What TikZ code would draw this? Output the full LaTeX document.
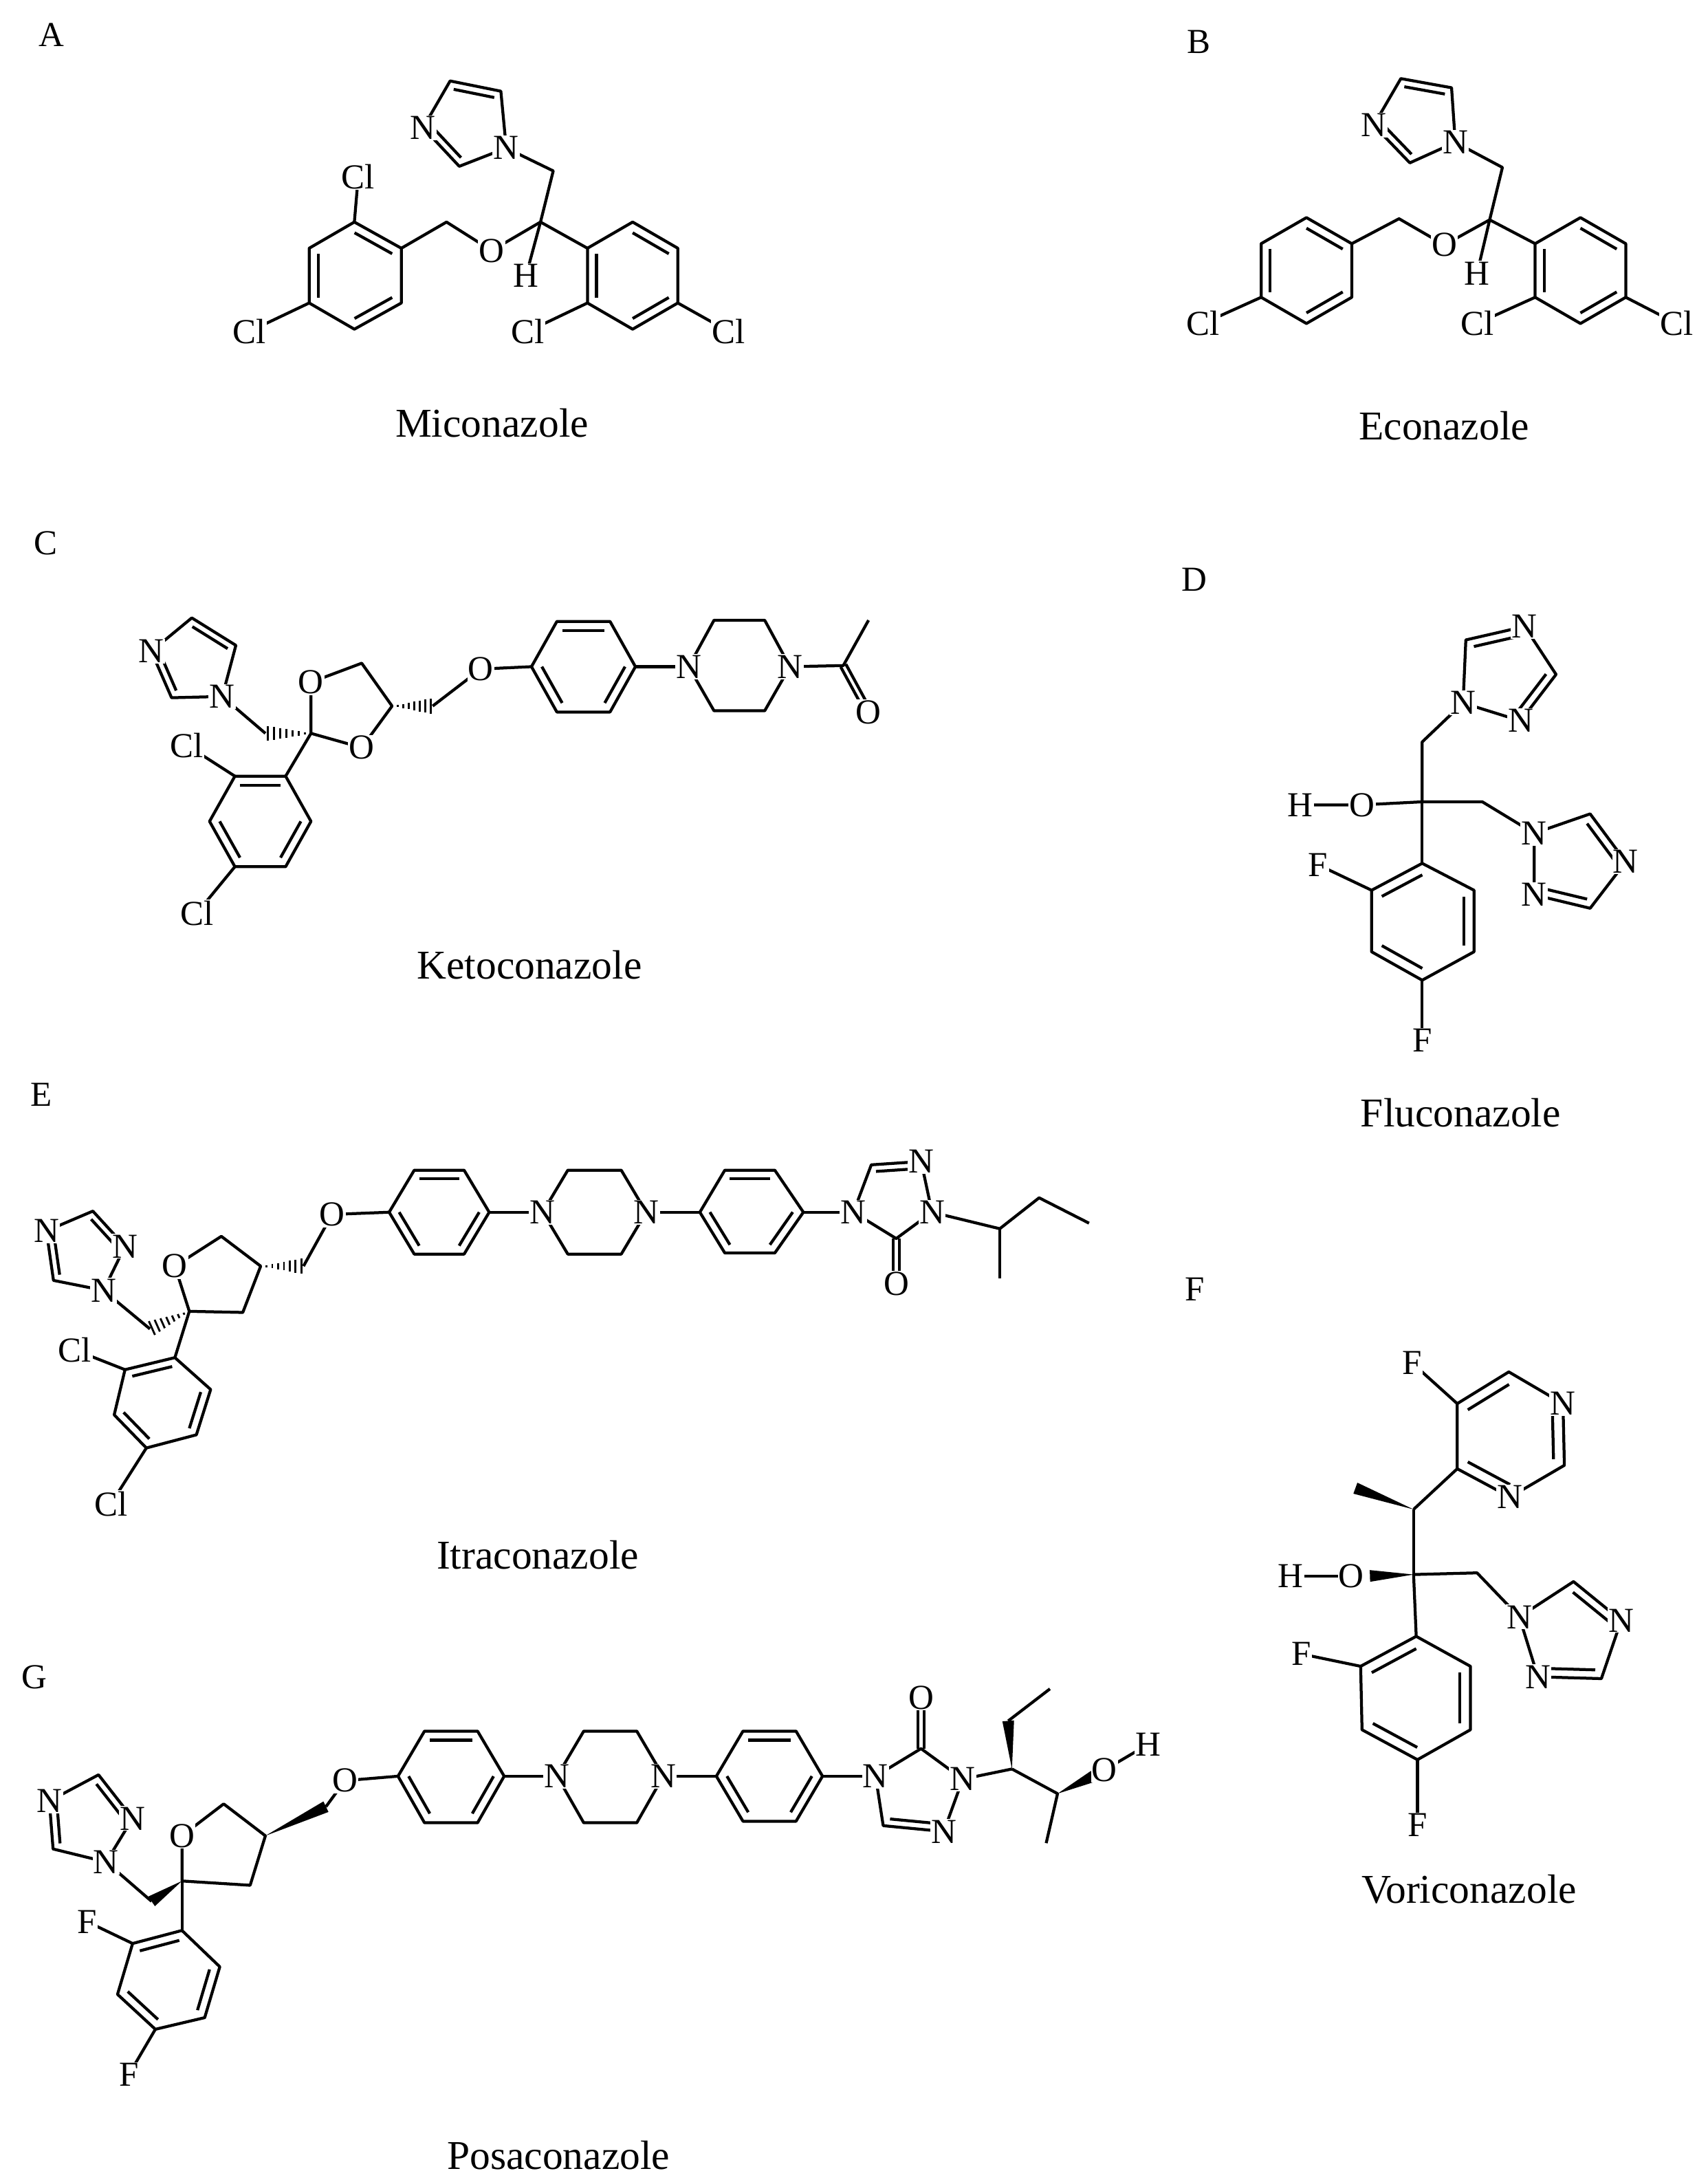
\documentclass[tikz,border=0pt]{standalone}
\usepackage{fontspec}
\setmainfont{Liberation Serif}
\usetikzlibrary{calc}
\newcommand{\dbl}[3]{\draw ($(#1)!0.2!(#3)$) -- ($(#2)!0.2!(#3)$);}
\newcommand{\dblx}[2]{\draw ($(#1)!3pt!90:(#2)$) -- ($(#2)!3pt!-90:(#1)$); \draw ($(#1)!3pt!-90:(#2)$) -- ($(#2)!3pt!90:(#1)$);}
\newcommand{\hashw}[2]{\foreach \i in {1,...,7}{\pgfmathsetmacro\myt{\i/7*0.95}\pgfmathsetlengthmacro\myw{\i*1.1pt}\draw[line width=2pt] ($(#1)!\myt!(#2)!\myw!90:(#2)$) -- ($(#1)!\myt!(#2)!\myw!-90:(#2)$);}}
\newcommand{\wedgeb}[2]{\fill (#1) -- ($(#2)!6pt!90:(#1)$) -- ($(#2)!6pt!-90:(#1)$) -- cycle;}
\begin{document}
\begin{tikzpicture}[x=0.5mm,y=-0.5mm,line width=3pt,line join=round,
  atom/.style={fill=white,inner sep=1pt,font=\fontsize{36}{36}\selectfont},
  title/.style={font=\fontsize{42}{42}\selectfont},
  panel/.style={font=\fontsize{36}{36}\selectfont}]
\useasboundingbox (0,0) rectangle (1232,1574.3);
% ================= A Miconazole
\coordinate (a1) at (255.7,160.2); \coordinate (a2) at (289.6,179.1); \coordinate (a3) at (289.6,218.6);
\coordinate (a4) at (255.7,237.5); \coordinate (a5) at (223.1,218.6); \coordinate (a6) at (223.1,179.1);
\coordinate (ac) at (256.4,198.9);
\draw (a1)--(a2)--(a3)--(a4)--(a5)--(a6)--cycle; \dbl{a1}{a2}{ac}\dbl{a3}{a4}{ac}\dbl{a5}{a6}{ac}
\coordinate (ach2) at (322.2,160.2); \coordinate (aO) at (354.8,180.8); \coordinate (aC) at (390,160.2);
\coordinate (ach2b) at (399.2,123.3); \coordinate (aN1) at (365.3,106.8); \coordinate (aC5) at (361.4,65.8);
\coordinate (aC4) at (324.8,58.4); \coordinate (aN3) at (305.3,92.1); \coordinate (aC2) at (331.4,120.0);
\coordinate (aim) at (barycentric cs:aN1=1,aC5=1,aC4=1,aN3=1,aC2=1);
\coordinate (aH) at (379.6,198.8);
\draw (a2)--(ach2)--(aO)--(aC)--(ach2b)--(aN1);
\draw (aN1)--(aC5)--(aC4)--(aN3)--(aC2)--(aN1); \dbl{aC5}{aC4}{aim}\dbl{aN3}{aC2}{aim}
\draw (aC)--(aH);
\coordinate (ar1) at (423.9,179.1); \coordinate (ar2) at (456.5,160.2); \coordinate (ar3) at (489.1,179.1);
\coordinate (ar4) at (489.1,218.6); \coordinate (ar5) at (456.5,237.5); \coordinate (ar6) at (423.9,218.6);
\coordinate (arc) at (456.5,198.9);
\draw (aC)--(ar1); \draw (ar1)--(ar2)--(ar3)--(ar4)--(ar5)--(ar6)--cycle;
\dbl{ar2}{ar3}{arc}\dbl{ar4}{ar5}{arc}\dbl{ar6}{ar1}{arc}
\coordinate (aCl1) at (258.5,127.4); \coordinate (aCl2) at (180,239.1); \coordinate (aCl3) at (380.9,239.1); \coordinate (aCl4) at (525.7,239.1);
\draw (a1)--(aCl1); \draw (a5)--(aCl2); \draw (ar6)--(aCl3); \draw (ar4)--(aCl4);
\node[atom] at (aCl1) {Cl}; \node[atom] at (aCl2) {Cl}; \node[atom] at (aCl3) {Cl}; \node[atom] at (aCl4) {Cl};
\node[atom] at (aO) {O}; \node[atom] at (aN1) {N}; \node[atom] at (aN3) {N}; \node[atom] at (aH) {H};
\node[panel] (labA) at (37,25) {A}; \node[title] (tA) at (355,305) {Miconazole};
% ================= B Econazole
\coordinate (b1) at (942.7,157.0); \coordinate (b2) at (975.4,175.8); \coordinate (b3) at (975.4,214.5);
\coordinate (b4) at (942.7,233.4); \coordinate (b5) at (910.0,214.5); \coordinate (b6) at (910.0,175.8);
\coordinate (bc) at (942.7,195.2);
\draw (b1)--(b2)--(b3)--(b4)--(b5)--(b6)--cycle; \dbl{b1}{b2}{bc}\dbl{b3}{b4}{bc}\dbl{b5}{b6}{bc}
\coordinate (bch2) at (1009.5,157.8); \coordinate (bO) at (1042.2,176.7); \coordinate (bC) at (1074.9,158.6);
\coordinate (bch2b) at (1084.1,120.8); \coordinate (bN1) at (1050.1,102.7); \coordinate (bC5) at (1047.4,63.3);
\coordinate (bC4) at (1010.8,56.7); \coordinate (bN3) at (991.2,90.4); \coordinate (bC2) at (1017.3,117.5);
\coordinate (bim) at (barycentric cs:bN1=1,bC5=1,bC4=1,bN3=1,bC2=1);
\coordinate (bH) at (1065.8,197.2);
\draw (b2)--(bch2)--(bO)--(bC)--(bch2b)--(bN1);
\draw (bN1)--(bC5)--(bC4)--(bN3)--(bC2)--(bN1); \dbl{bC5}{bC4}{bim}\dbl{bN3}{bC2}{bim}
\draw (bC)--(bH);
\coordinate (br1) at (1107.7,175.8); \coordinate (br2) at (1140.4,157.0); \coordinate (br3) at (1173.1,175.8);
\coordinate (br4) at (1173.1,214.5); \coordinate (br5) at (1140.4,233.4); \coordinate (br6) at (1107.7,214.5);
\coordinate (brc) at (1140.4,195.2);
\draw (bC)--(br1); \draw (br1)--(br2)--(br3)--(br4)--(br5)--(br6)--cycle;
\dbl{br2}{br3}{brc}\dbl{br4}{br5}{brc}\dbl{br6}{br1}{brc}
\coordinate (bCl1) at (868.1,233.4); \coordinate (bCl2) at (1065.8,233.4); \coordinate (bCl3) at (1209.8,233.4);
\draw (b5)--(bCl1); \draw (br6)--(bCl2); \draw (br4)--(bCl3);
\node[atom] at (bCl1) {Cl}; \node[atom] at (bCl2) {Cl}; \node[atom] at (bCl3) {Cl};
\node[atom] at (bO) {O}; \node[atom] at (bN1) {N}; \node[atom] at (bN3) {N}; \node[atom] at (bH) {H};
\node[panel] (labB) at (865,30) {B}; \node[title] (tB) at (1042,307) {Econazole};
% ================= C Ketoconazole
\coordinate (cC4) at (138.4,445.8); \coordinate (cC5) at (170.2,465.6); \coordinate (cN1) at (160.4,502.5);
\coordinate (cC2) at (123.8,503.4); \coordinate (cN3) at (109.2,469.9);
\coordinate (cim) at (barycentric cs:cC4=1,cC5=1,cN1=1,cC2=1,cN3=1);
\draw (cN1)--(cC5)--(cC4)--(cN3)--(cC2)--(cN1); \dbl{cC4}{cC5}{cim}\dbl{cN3}{cC2}{cim}
\coordinate (cch2) at (191.5,529.1); \coordinate (cK) at (224.4,529.1);
\draw (cN1)--(cch2); \hashw{cK}{cch2}
\coordinate (cO1) at (224.4,492.2); \coordinate (cD5) at (261.0,478.5); \coordinate (cD4) at (282.9,509.4); \coordinate (cO3) at (261.0,539.4);
\draw (cK)--(cO1)--(cD5)--(cD4)--(cO3)--(cK);
\coordinate (cch2b) at (312.2,509.4); \coordinate (cOe) at (347,482.7);
\hashw{cD4}{cch2b} \draw (cch2b)--(cOe);
\coordinate (cp1) at (383.5,481.0); \coordinate (cp2) at (401.8,448.4); \coordinate (cp3) at (440.2,448.4);
\coordinate (cp4) at (458.5,481.0); \coordinate (cp5) at (440.2,513.7); \coordinate (cp6) at (401.8,513.7);
\coordinate (cpc) at (421,481.0);
\draw (cOe)--(cp1); \draw (cp1)--(cp2)--(cp3)--(cp4)--(cp5)--(cp6)--cycle;
\dbl{cp2}{cp3}{cpc}\dbl{cp1}{cp6}{cpc}\dbl{cp4}{cp5}{cpc}
\coordinate (cq1) at (496.9,481.0); \coordinate (cq2) at (515.2,447.5); \coordinate (cq3) at (551.8,447.5);
\coordinate (cq4) at (570.0,481.0); \coordinate (cq5) at (551.8,512.8); \coordinate (cq6) at (515.2,512.8);
\draw (cp4)--(cq1); \draw (cq1)--(cq2)--(cq3)--(cq4)--(cq5)--(cq6)--cycle;
\coordinate (cAc) at (608.5,480.2); \coordinate (cMe) at (626.7,447.5); \coordinate (cAO) at (626.7,513.7);
\draw (cq4)--(cAc)--(cMe); \dblx{cAc}{cAO}
\coordinate (cr1) at (206.1,560.0); \coordinate (cr2) at (169.5,560.0); \coordinate (cr3) at (151.2,592.6);
\coordinate (cr4) at (169.5,625.3); \coordinate (cr5) at (206.1,625.3); \coordinate (cr6) at (224.4,592.6);
\coordinate (crc) at (187.8,592.6);
\draw (cK)--(cr1); \draw (cr1)--(cr2)--(cr3)--(cr4)--(cr5)--(cr6)--cycle;
\dbl{cr1}{cr2}{crc}\dbl{cr3}{cr4}{crc}\dbl{cr5}{cr6}{crc}
\coordinate (cCl1) at (134.8,537.7); \coordinate (cCl2) at (142.1,658.7);
\draw (cr2)--(cCl1); \draw (cr4)--(cCl2);
\node[atom] at (cCl1) {Cl}; \node[atom] at (cCl2) {Cl};
\node[atom] at (cN1) {N}; \node[atom] at (cN3) {N}; \node[atom] at (cO1) {O}; \node[atom] at (cO3) {O};
\node[atom] at (cOe) {O}; \node[atom] at (cq1) {N}; \node[atom] at (cq4) {N}; \node[atom] at (cAO) {O};
\node[panel] (labC) at (33,392) {C}; \node[title] (tC) at (382,696) {Ketoconazole};
% ================= D Fluconazole
\coordinate (dC) at (1026.2,578.5); \coordinate (dch2) at (1026.2,535.3); \coordinate (dN1) at (1055.7,507.2);
\coordinate (dC5) at (1057.7,461.7); \coordinate (dN4) at (1100.1,452.0); \coordinate (dC3) at (1122.8,486.6); \coordinate (dN2) at (1097.2,520.1);
\coordinate (dtc) at (barycentric cs:dN1=1,dC5=1,dN4=1,dC3=1,dN2=1);
\draw (dC)--(dch2)--(dN1); \draw (dN1)--(dC5)--(dN4)--(dC3)--(dN2)--(dN1); \dbl{dC5}{dN4}{dtc}\dbl{dC3}{dN2}{dtc}
\coordinate (dO) at (982.8,580.7); \coordinate (dH) at (938.4,580.7);
\draw (dC)--(dO)--(dH);
\coordinate (dch2b) at (1069.6,578.5); \coordinate (dN1b) at (1107.0,601.2); \coordinate (dC5b) at (1147.4,587.2);
\coordinate (dN4b) at (1173.1,621.8); \coordinate (dC3b) at (1147.4,655.3); \coordinate (dN2b) at (1107.0,645.6);
\coordinate (dtc2) at (barycentric cs:dN1b=1,dC5b=1,dN4b=1,dC3b=1,dN2b=1);
\draw (dC)--(dch2b)--(dN1b); \draw (dN1b)--(dC5b)--(dN4b)--(dC3b)--(dN2b)--(dN1b); \dbl{dC5b}{dN4b}{dtc2}\dbl{dC3b}{dN2b}{dtc2}
\coordinate (dr1) at (1026.2,622.9); \coordinate (dr2) at (989.7,642.3); \coordinate (dr3) at (989.7,686.7);
\coordinate (dr4) at (1026.2,707.2); \coordinate (dr5) at (1063.6,686.7); \coordinate (dr6) at (1063.6,642.3);
\coordinate (drc) at (1026.6,664.5);
\draw (dC)--(dr1); \draw (dr1)--(dr2)--(dr3)--(dr4)--(dr5)--(dr6)--cycle;
\dbl{dr1}{dr2}{drc}\dbl{dr3}{dr4}{drc}\dbl{dr5}{dr6}{drc}
\coordinate (dF1) at (951.2,624.0); \coordinate (dF2) at (1026.2,750.5);
\draw (dr2)--(dF1); \draw (dr4)--(dF2);
\node[atom] at (dF1) {F}; \node[atom] at (dF2) {F}; \node[atom] at (dO) {O}; \node[atom] at (dH) {H};
\node[atom] at (dN1) {N}; \node[atom] at (dN4) {N}; \node[atom] at (dN2) {N};
\node[atom] at (dN1b) {N}; \node[atom] at (dN4b) {N}; \node[atom] at (dN2b) {N};
\node[panel] (labD) at (862,418) {D}; \node[title] (tD) at (1054,803) {Fluconazole};
% ================= E Itraconazole
\coordinate (eN4) at (33.5,888.1); \coordinate (eC3) at (67.0,873.8); \coordinate (eN2) at (90.2,899.2);
\coordinate (eN1) at (74.7,931.0); \coordinate (eC5) at (38.6,923.8);
\coordinate (etc) at (barycentric cs:eN4=1,eC3=1,eN2=1,eN1=1,eC5=1);
\draw (eN1)--(eC5)--(eN4)--(eC3)--(eN2)--(eN1); \dbl{eC3}{eN2}{etc}\dbl{eC5}{eN4}{etc}
\coordinate (ech2) at (108.2,958.8); \coordinate (eK) at (136.6,946.1);
\draw (eN1)--(ech2); \hashw{eK}{ech2}
\coordinate (eO) at (126.2,913.5); \coordinate (eT5) at (159.7,892.0); \coordinate (eT4) at (188.1,913.5); \coordinate (eT3) at (175.2,946.9);
\draw (eK)--(eO)--(eT5)--(eT4)--(eT3)--(eK);
\coordinate (ech2b) at (219.0,913.5); \coordinate (eOe) at (239.6,876.2);
\hashw{eT4}{ech2b} \draw (ech2b)--(eOe);
\coordinate (ep1) at (280.8,874.6); \coordinate (ep2) at (298.9,844.3); \coordinate (ep3) at (334.9,844.3);
\coordinate (ep4) at (353.0,874.6); \coordinate (ep5) at (334.9,904.8); \coordinate (ep6) at (298.9,904.8);
\coordinate (epc) at (316.9,874.6);
\draw (eOe)--(ep1); \draw (ep1)--(ep2)--(ep3)--(ep4)--(ep5)--(ep6)--cycle;
\dbl{ep2}{ep3}{epc}\dbl{ep1}{ep6}{epc}\dbl{ep4}{ep5}{epc}
\coordinate (eq1) at (391.6,874.6); \coordinate (eq2) at (409.7,844.3); \coordinate (eq3) at (448.3,844.3);
\coordinate (eq4) at (466.3,874.6); \coordinate (eq5) at (448.3,904.8); \coordinate (eq6) at (409.7,904.8);
\draw (ep4)--(eq1); \draw (eq1)--(eq2)--(eq3)--(eq4)--(eq5)--(eq6)--cycle;
\coordinate (es1) at (505.0,874.6); \coordinate (es2) at (523.0,844.3); \coordinate (es3) at (559.1,844.3);
\coordinate (es4) at (579.7,874.6); \coordinate (es5) at (559.1,904.0); \coordinate (es6) at (523.0,904.0);
\coordinate (esc) at (541.3,874.3);
\draw (eq4)--(es1); \draw (es1)--(es2)--(es3)--(es4)--(es5)--(es6)--cycle;
\dbl{es2}{es3}{esc}\dbl{es1}{es6}{esc}\dbl{es4}{es5}{esc}
\coordinate (eN4t) at (615.8,874.6); \coordinate (eC5t) at (628.7,840.4); \coordinate (eN1t) at (664.7,838.0);
\coordinate (eN2t) at (672.5,874.6); \coordinate (eC3t) at (646.7,893.6); \coordinate (eOt) at (646.7,926.2);
\coordinate (ettc) at (barycentric cs:eN4t=1,eC5t=1,eN1t=1,eN2t=1,eC3t=1);
\draw (es4)--(eN4t); \draw (eN4t)--(eC5t)--(eN1t)--(eN2t)--(eC3t)--(eN4t); \dbl{eC5t}{eN1t}{ettc} \dblx{eC3t}{eOt}
\coordinate (eCH) at (721.4,886.5); \coordinate (eEt) at (749.8,864.2); \coordinate (eMe1) at (785.8,882.5); \coordinate (eMe2) at (721.4,922.3);
\draw (eN2t)--(eCH)--(eEt)--(eMe1); \draw (eCH)--(eMe2);
\coordinate (er1) at (126.2,979.5); \coordinate (er2) at (90.2,988.2); \coordinate (er3) at (82.4,1020.8);
\coordinate (er4) at (105.6,1044.7); \coordinate (er5) at (141.7,1035.2); \coordinate (er6) at (152.0,1002.5);
\coordinate (erc) at (barycentric cs:er1=1,er2=1,er3=1,er4=1,er5=1,er6=1);
\draw (eK)--(er1); \draw (er1)--(er2)--(er3)--(er4)--(er5)--(er6)--cycle;
\dbl{er1}{er2}{erc}\dbl{er3}{er4}{erc}\dbl{er5}{er6}{erc}
\coordinate (eCl1) at (54.1,974.0); \coordinate (eCl2) at (80,1085);
\draw (er2)--(eCl1); \draw (er4)--(eCl2);
\node[atom] at (eCl1) {Cl}; \node[atom] at (eCl2) {Cl};
\node[atom] at (eN4) {N}; \node[atom] at (eN2) {N}; \node[atom] at (eN1) {N}; \node[atom] at (eO) {O}; \node[atom] at (eOe) {O};
\node[atom] at (eq1) {N}; \node[atom] at (eq4) {N};
\node[atom] at (eN4t) {N}; \node[atom] at (eN1t) {N}; \node[atom] at (eN2t) {N}; \node[atom] at (eOt) {O};
\node[panel] (labE) at (30,790) {E}; \node[title] (tE) at (388,1122) {Itraconazole};
% ================= F Voriconazole
\coordinate (fC3) at (1020.0,1089.0); \coordinate (fMe) at (978.0,1073.7);
\coordinate (fP4) at (1051.5,1059.7); \coordinate (fP5) at (1051.5,1012.7); \coordinate (fP6) at (1088.7,989.8);
\coordinate (fPN1) at (1127.8,1012.7); \coordinate (fP2) at (1128.8,1057.2); \coordinate (fPN3) at (1089.6,1080.1);
\coordinate (fpc) at (1089.6,1035);
\wedgeb{fC3}{fMe}
\draw (fC3)--(fP4); \draw (fP4)--(fP5)--(fP6)--(fPN1)--(fP2)--(fPN3)--cycle;
\dbl{fP5}{fP6}{fpc}\dbl{fPN1}{fP2}{fpc}\dbl{fP4}{fPN3}{fpc}
\coordinate (fF1) at (1019.0,983.4); \draw (fP5)--(fF1);
\coordinate (fC2) at (1020.0,1136.0); \coordinate (fOw) at (988.5,1137.0); \coordinate (fO) at (975.1,1137.3); \coordinate (fH) at (931.3,1137.3);
\draw (fC3)--(fC2); \wedgeb{fC2}{fOw} \draw (fO)--(fH);
\coordinate (fch2) at (1065.8,1134.8); \coordinate (fN1) at (1096.3,1166.6); \coordinate (fC5) at (1135.4,1141.1);
\coordinate (fN4) at (1169.8,1169.1); \coordinate (fC3t) at (1155.5,1211.1); \coordinate (fN2) at (1109.7,1209.8);
\coordinate (ftc) at (barycentric cs:fN1=1,fC5=1,fN4=1,fC3t=1,fN2=1);
\draw (fC2)--(fch2)--(fN1); \draw (fN1)--(fC5)--(fN4)--(fC3t)--(fN2)--(fN1); \dbl{fC5}{fN4}{ftc}\dbl{fC3t}{fN2}{ftc}
\coordinate (fr1) at (1021.9,1180.6); \coordinate (fr2) at (981.8,1202.2); \coordinate (fr3) at (982.8,1248.0);
\coordinate (fr4) at (1022.8,1269.6); \coordinate (fr5) at (1061.0,1248.0); \coordinate (fr6) at (1061.0,1202.2);
\coordinate (frc) at (1021.9,1225.1);
\draw (fC2)--(fr1); \draw (fr1)--(fr2)--(fr3)--(fr4)--(fr5)--(fr6)--cycle;
\dbl{fr1}{fr2}{frc}\dbl{fr3}{fr4}{frc}\dbl{fr5}{fr6}{frc}
\coordinate (fF2) at (938.9,1193.3); \coordinate (fF3) at (1022.8,1316.7);
\draw (fr2)--(fF2); \draw (fr4)--(fF3);
\node[atom] at (fF1) {F}; \node[atom] at (fF2) {F}; \node[atom] at (fF3) {F};
\node[atom] at (fPN1) {N}; \node[atom] at (fPN3) {N}; \node[atom] at (fO) {O}; \node[atom] at (fH) {H};
\node[atom] at (fN1) {N}; \node[atom] at (fN4) {N}; \node[atom] at (fN2) {N};
\node[panel] (labF) at (862,930) {F}; \node[title] (tF) at (1060,1363) {Voriconazole};
% ================= G Posaconazole
\coordinate (gN4) at (35.6,1299.4); \coordinate (gC3) at (71.1,1280.5); \coordinate (gN2) at (95.7,1312.0);
\coordinate (gN1) at (76.6,1343.4); \coordinate (gC5) at (38.3,1334.0);
\coordinate (gtc) at (barycentric cs:gN4=1,gC3=1,gN2=1,gN1=1,gC5=1);
\draw (gN1)--(gC5)--(gN4)--(gC3)--(gN2)--(gN1); \dbl{gC3}{gN2}{gtc}\dbl{gC5}{gN4}{gtc}
\coordinate (gch2) at (109.4,1371.8); \coordinate (gK) at (131.3,1357.1);
\draw (gN1)--(gch2); \wedgeb{gK}{gch2}
\coordinate (gO) at (131.3,1324.5); \coordinate (gT5) at (161.4,1301.5); \coordinate (gT4) at (191.5,1324.5); \coordinate (gT3) at (180.5,1360.2);
\draw (gK)--(gO)--(gT5)--(gT4)--(gT3)--(gK);
\coordinate (gch2b) at (235.2,1303.5); \coordinate (gOe) at (248.9,1284.7);
\wedgeb{gT4}{gch2b} \draw (gch2b)--(gOe);
\coordinate (gp1) at (287.2,1281.5); \coordinate (gp2) at (306.3,1249.0); \coordinate (gp3) at (344.6,1249.0);
\coordinate (gp4) at (363.8,1281.5); \coordinate (gp5) at (344.6,1315.1); \coordinate (gp6) at (306.3,1315.1);
\coordinate (gpc) at (325.5,1281.8);
\draw (gOe)--(gp1); \draw (gp1)--(gp2)--(gp3)--(gp4)--(gp5)--(gp6)--cycle;
\dbl{gp2}{gp3}{gpc}\dbl{gp1}{gp6}{gpc}\dbl{gp4}{gp5}{gpc}
\coordinate (gq1) at (402.0,1281.5); \coordinate (gq2) at (421.2,1249.0); \coordinate (gq3) at (459.5,1249.0);
\coordinate (gq4) at (478.6,1281.5); \coordinate (gq5) at (459.5,1315.1); \coordinate (gq6) at (421.2,1315.1);
\draw (gp4)--(gq1); \draw (gq1)--(gq2)--(gq3)--(gq4)--(gq5)--(gq6)--cycle;
\coordinate (gs1) at (516.9,1281.5); \coordinate (gs2) at (536.1,1249.0); \coordinate (gs3) at (574.4,1249.0);
\coordinate (gs4) at (593.5,1281.5); \coordinate (gs5) at (574.4,1314.0); \coordinate (gs6) at (536.1,1314.0);
\coordinate (gsc) at (555.2,1281.5);
\draw (gq4)--(gs1); \draw (gs1)--(gs2)--(gs3)--(gs4)--(gs5)--(gs6)--cycle;
\dbl{gs2}{gs3}{gsc}\dbl{gs1}{gs6}{gsc}\dbl{gs4}{gs5}{gsc}
\coordinate (gN4t) at (631.8,1281.5); \coordinate (gC5t) at (664.6,1261.6); \coordinate (gOt) at (664.6,1224.8);
\coordinate (gN1t) at (694.7,1283.6); \coordinate (gN2t) at (681.0,1321.4); \coordinate (gC3t) at (637.3,1317.2);
\coordinate (gttc) at (barycentric cs:gN4t=1,gC5t=1,gN1t=1,gN2t=1,gC3t=1);
\draw (gs4)--(gN4t); \draw (gN4t)--(gC5t)--(gN1t)--(gN2t)--(gC3t)--(gN4t); \dbl{gN2t}{gC3t}{gttc} \dblx{gC5t}{gOt}
\coordinate (gCH) at (730.2,1276.3); \coordinate (gEt) at (727.5,1241.6); \coordinate (gMe1) at (757.6,1218.5);
\coordinate (gCHp) at (763.1,1294.1); \coordinate (gOw) at (789,1281.5); \coordinate (gOH) at (797,1277); \coordinate (gHH) at (828.7,1258.4);
\coordinate (gMe2) at (754.9,1329.8);
\draw (gN1t)--(gCH); \wedgeb{gCH}{gEt} \draw (gEt)--(gMe1);
\draw (gCH)--(gCHp)--(gMe2); \wedgeb{gCHp}{gOw} \draw (gOH)--(gHH);
\coordinate (gr1) at (131.3,1392.8); \coordinate (gr2) at (95.7,1402.2); \coordinate (gr3) at (84.8,1438.9);
\coordinate (gr4) at (112.1,1464.1); \coordinate (gr5) at (147.7,1455.7); \coordinate (gr6) at (158.6,1419.0);
\coordinate (grc) at (barycentric cs:gr1=1,gr2=1,gr3=1,gr4=1,gr5=1,gr6=1);
\draw (gK)--(gr1); \draw (gr1)--(gr2)--(gr3)--(gr4)--(gr5)--(gr6)--cycle;
\dbl{gr1}{gr2}{grc}\dbl{gr3}{gr4}{grc}\dbl{gr5}{gr6}{grc}
\coordinate (gF1) at (62.9,1386.5); \coordinate (gF2) at (93.0,1496.7);
\draw (gr2)--(gF1); \draw (gr4)--(gF2);
\node[atom] at (gF1) {F}; \node[atom] at (gF2) {F};
\node[atom] at (gN4) {N}; \node[atom] at (gN2) {N}; \node[atom] at (gN1) {N}; \node[atom] at (gO) {O}; \node[atom] at (gOe) {O};
\node[atom] at (gq1) {N}; \node[atom] at (gq4) {N};
\node[atom] at (gN4t) {N}; \node[atom] at (gN1t) {N}; \node[atom] at (gN2t) {N}; \node[atom] at (gOt) {O};
\node[atom] at (gOH) {O}; \node[atom] at (gHH) {H};
\node[panel] (labG) at (25,1210) {G}; \node[title] (tG) at (403,1555) {Posaconazole};
\end{tikzpicture}
\end{document}
